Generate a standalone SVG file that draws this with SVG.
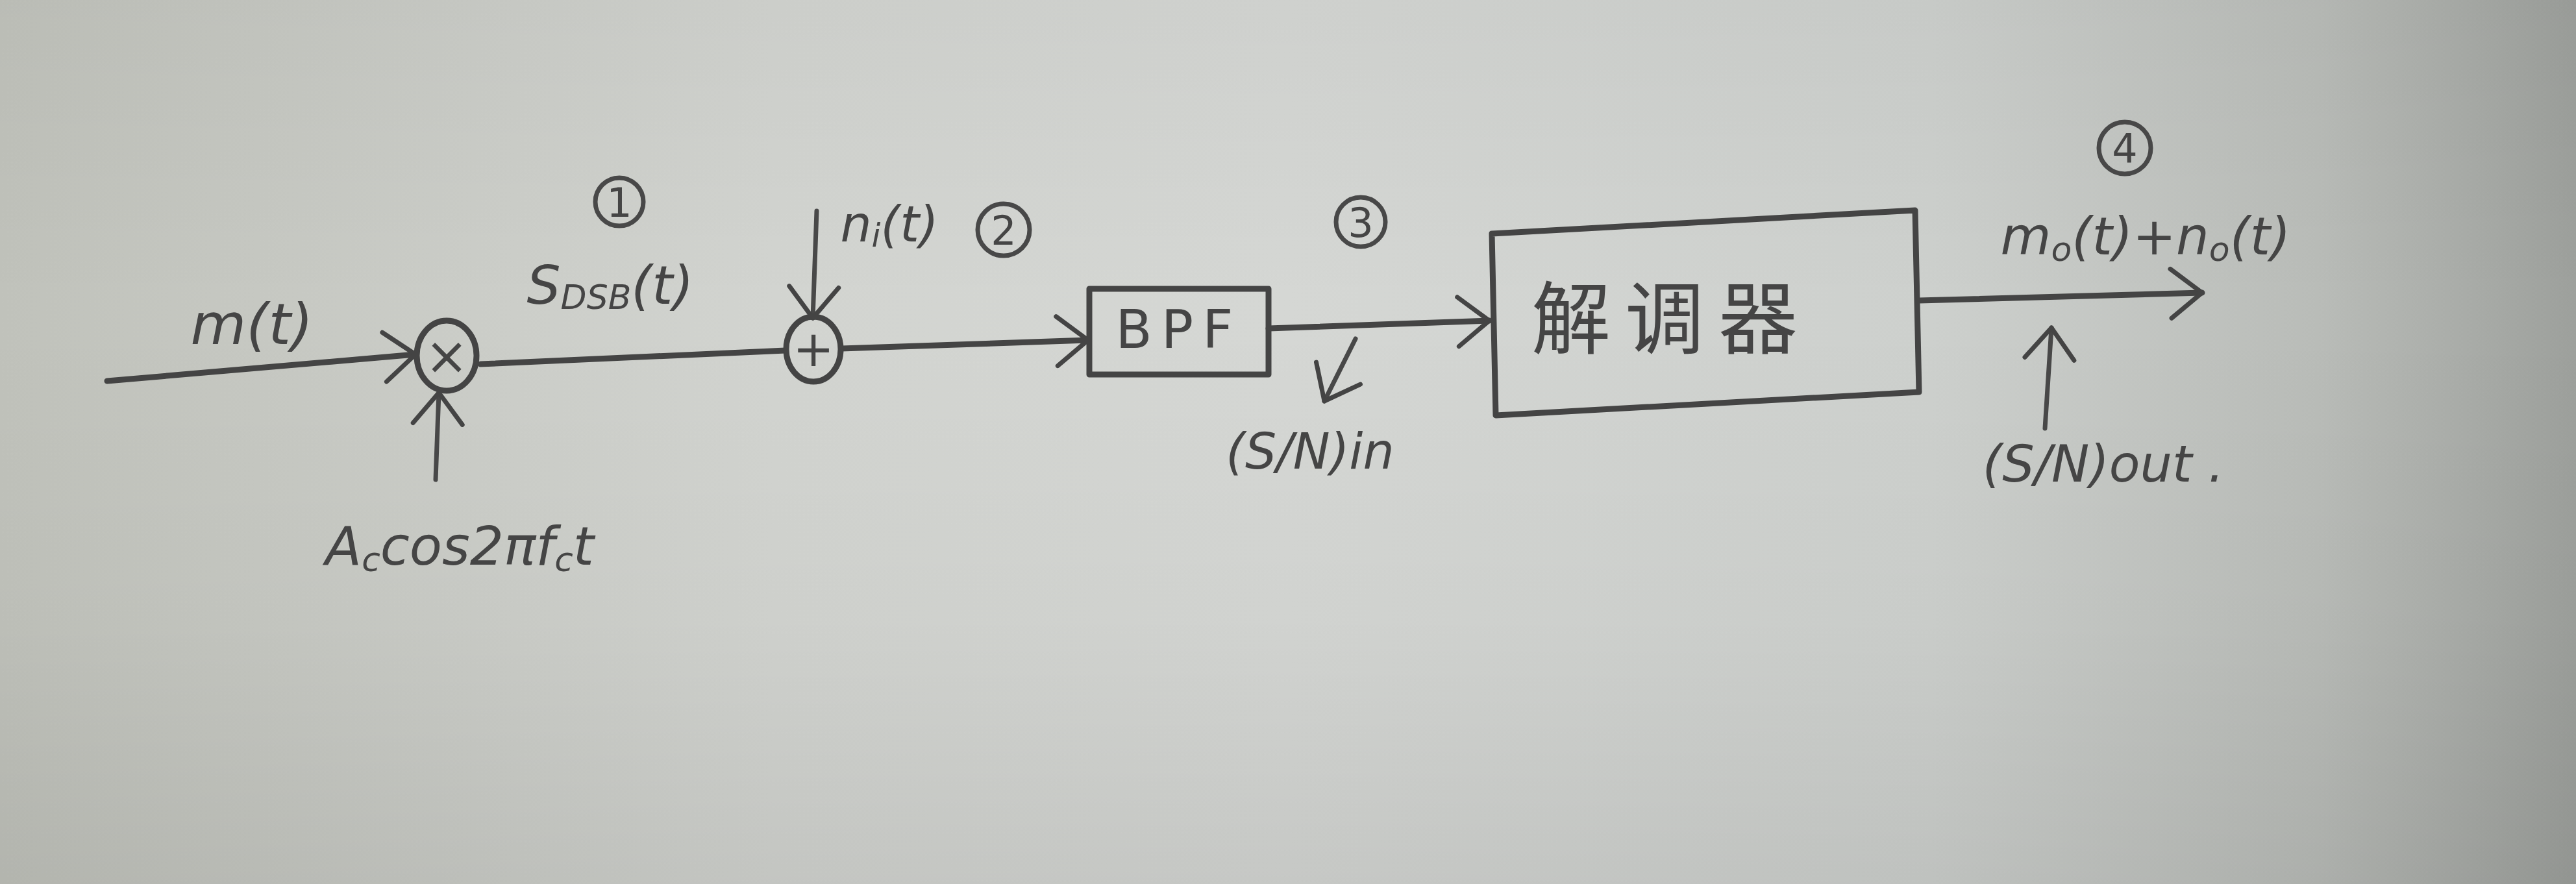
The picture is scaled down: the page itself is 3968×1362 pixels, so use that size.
<svg xmlns="http://www.w3.org/2000/svg" width="3968" height="1362" viewBox="0 0 3968 1362">
  <defs>
    <linearGradient id="paper" x1="0" y1="0" x2="1" y2="0">
      <stop offset="0" stop-color="#c0c2bb"/>
      <stop offset="0.3" stop-color="#d2d4d0"/>
      <stop offset="0.5" stop-color="#d5d7d4"/>
      <stop offset="0.75" stop-color="#cdd0cd"/>
      <stop offset="0.9" stop-color="#b9bcb8"/>
      <stop offset="1" stop-color="#9da09c"/>
    </linearGradient>
    <linearGradient id="shade" x1="0" y1="0" x2="0" y2="1">
      <stop offset="0" stop-color="#000" stop-opacity="0.03"/>
      <stop offset="0.35" stop-color="#000" stop-opacity="0"/>
      <stop offset="0.7" stop-color="#000" stop-opacity="0.02"/>
      <stop offset="1" stop-color="#000" stop-opacity="0.07"/>
    </linearGradient>
    <marker id="arr" viewBox="0 0 20 20" refX="18" refY="10" markerWidth="20" markerHeight="20" markerUnits="userSpaceOnUse" orient="auto" overflow="visible">
      <path d="M-30,-28 L18,10 L-30,48" fill="none" stroke="#444" stroke-width="7" stroke-linecap="round" stroke-linejoin="round"/>
    </marker>
    <style>
      .ln { fill: none; stroke: #444; stroke-width: 9; stroke-linecap: round; stroke-linejoin: round; }
      .thin { fill: none; stroke: #484848; stroke-width: 7; stroke-linecap: round; }
      .box { fill: none; stroke: #444; stroke-width: 9; stroke-linejoin: round; }
      .t { font-family: "DejaVu Sans", "Liberation Sans", sans-serif; fill: #454545; }
      .cjk { font-family: "Noto Sans CJK SC", "Noto Sans", sans-serif; fill: #454545; font-weight: 400; }
    </style>
  </defs>
  <rect x="0" y="0" width="3968" height="1362" fill="url(#paper)"/>
  <rect x="0" y="0" width="3968" height="1362" fill="url(#shade)"/>

  <g id="connectors">
    <line class="ln" x1="165" y1="587" x2="640" y2="546" marker-end="url(#arr)"/>
    <line class="thin" x1="671" y1="739" x2="676" y2="605" marker-end="url(#arr)"/>
    <line class="ln" x1="740" y1="561" x2="1210" y2="540"/>
    <line class="thin" x1="1258" y1="325" x2="1252" y2="490" marker-end="url(#arr)"/>
    <line class="ln" x1="1296" y1="537" x2="1676" y2="524" marker-end="url(#arr)"/>
    <line class="ln" x1="1954" y1="506" x2="2294" y2="494" marker-end="url(#arr)"/>
    <line class="thin" x1="2088" y1="522" x2="2040" y2="618" marker-end="url(#arr)"/>
    <line class="ln" x1="2956" y1="463" x2="3392" y2="451" marker-end="url(#arr)"/>
    <line class="thin" x1="3150" y1="660" x2="3160" y2="505" marker-end="url(#arr)"/>
  </g>

  <g id="mult">
    <ellipse class="box" cx="688" cy="548" rx="46" ry="54"/>
    <text class="t" x="688" y="576" font-size="80" text-anchor="middle">×</text>
  </g>

  <g id="adder">
    <ellipse class="box" cx="1253" cy="538" rx="42" ry="50"/>
    <text class="t" x="1253" y="564" font-size="76" text-anchor="middle">+</text>
  </g>

  <g id="bpf">
    <rect class="box" x="1678" y="445" width="276" height="132"/>
    <text class="t" x="1816" y="536" font-size="82" text-anchor="middle" letter-spacing="14">BPF</text>
  </g>

  <g id="demod">
    <path class="box" d="M2298,360 L2950,324 L2956,604 L2304,640 Z"/>
    <text class="cjk" x="2575" y="535" font-size="122" text-anchor="middle" letter-spacing="22">解调器</text>
  </g>

  <g id="labels">
    <text class="t" x="388" y="530" font-size="88" text-anchor="middle" font-style="italic">m(t)</text>
    <text class="t" x="940" y="468" font-size="82" text-anchor="middle" font-style="italic">S<tspan font-size="52" dy="8">DSB</tspan><tspan dy="-8">(t)</tspan></text>
    <text class="t" x="708" y="870" font-size="82" text-anchor="middle" font-style="italic">A<tspan font-size="52" dy="10">c</tspan><tspan dy="-10">cos2πf</tspan><tspan font-size="52" dy="10">c</tspan><tspan dy="-10">t</tspan></text>
    <text class="t" x="1370" y="372" font-size="76" text-anchor="middle" font-style="italic">n<tspan font-size="50" dy="8">i</tspan><tspan dy="-8">(t)</tspan></text>
    <text class="t" x="2018" y="722" font-size="76" text-anchor="middle" font-style="italic">(S/N)in</text>
    <text class="t" x="3305" y="392" font-size="80" text-anchor="middle" font-style="italic">m<tspan font-size="52" dy="10">o</tspan><tspan dy="-10">(t)+n</tspan><tspan font-size="52" dy="10">o</tspan><tspan dy="-10">(t)</tspan></text>
    <text class="t" x="3240" y="742" font-size="78" text-anchor="middle" font-style="italic">(S/N)out .</text>

    <g id="c1">
      <circle class="thin" cx="954" cy="311" r="37"/>
      <text class="t" x="954" y="334" font-size="62" text-anchor="middle">1</text>
    </g>
    <g id="c2">
      <circle class="thin" cx="1546" cy="354" r="40"/>
      <text class="t" x="1546" y="377" font-size="62" text-anchor="middle">2</text>
    </g>
    <g id="c3">
      <circle class="thin" cx="2096" cy="342" r="38"/>
      <text class="t" x="2096" y="365" font-size="62" text-anchor="middle">3</text>
    </g>
    <g id="c4">
      <circle class="thin" cx="3273" cy="228" r="40"/>
      <text class="t" x="3273" y="251" font-size="62" text-anchor="middle">4</text>
    </g>
  </g>
</svg>
